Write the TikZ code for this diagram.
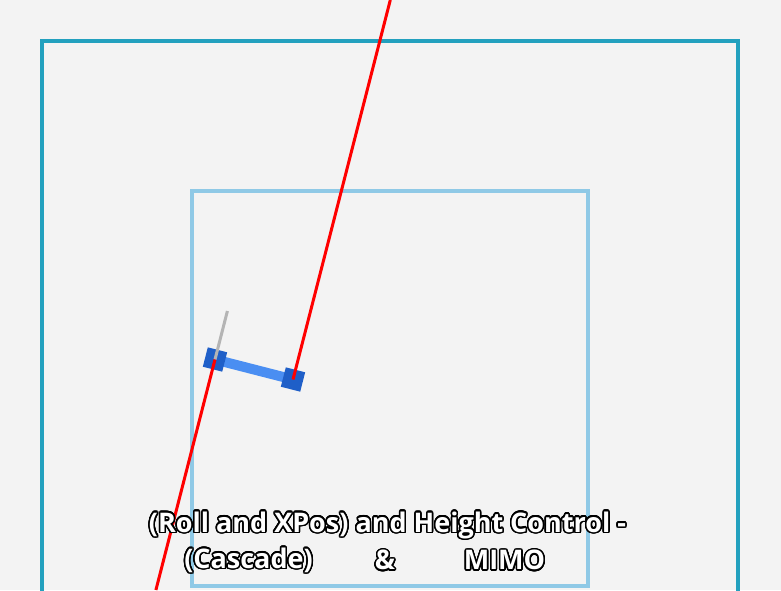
\documentclass[tikz,border=0pt]{standalone}
\usepackage{fontspec}
\setmainfont{Open Sans}
\usepackage{contour}
\contourlength{1.5pt}
\contournumber{24}
\definecolor{bg}{HTML}{F3F3F3}
\definecolor{outerc}{HTML}{22A0BE}
\definecolor{innerc}{HTML}{8FC9E6}
\definecolor{barc}{HTML}{4A8EF2}
\definecolor{rotc}{HTML}{1F5FC8}
\definecolor{axisc}{HTML}{B4B4B4}
\tikzset{
  rotor/.style={fill=rotc, minimum size=20pt, inner sep=0pt, rotate=-14.4},
  redline/.style={draw=red, line width=3pt},
  title/.style={font=\bfseries\fontsize{27}{32}\selectfont, text=white, inner sep=0pt}
}
\begin{document}
\begin{tikzpicture}[x=1pt,y=-1pt]
\fill[bg] (0,0) rectangle (781,590);
\useasboundingbox (0,0) rectangle (781,590);
\begin{scope}
\clip (0,0) rectangle (781,590);
\draw[outerc, line width=4pt] (42,41) rectangle (738,737);
\draw[innerc, line width=3.5pt] (192,191) rectangle (588,586);
\coordinate (cL) at (215,359.5);
\coordinate (cR) at (293,379.5);
\draw[barc, line width=10pt] (cL) -- (cR);
\node[rotor] (rotL) at (cL) {};
\node[rotor] (rotR) at (cR) {};
\coordinate (axisEnd) at (227.4,311);
\draw[axisc, line width=3pt] (rotL.center) -- (axisEnd);
\coordinate (topEnd) at (390.3,0);
\coordinate (botEnd) at (155.9,590);
\draw[redline] (rotR.center) -- (topEnd);
\draw[redline] (rotL.center) -- (botEnd);
\end{scope}
\node[title] (t1) at (387.5,526) {\contour{black}{(Roll and XPos) and Height Control -}};
\node[title] (t2a) at (248.5,561) {\contour{black}{(Cascade)}};
\node[title] (t2b) at (385,561) {\contour{black}{\&}};
\node[title] (t2c) at (504.5,561) {\contour{black}{MIMO}};
\end{tikzpicture}
\end{document}
